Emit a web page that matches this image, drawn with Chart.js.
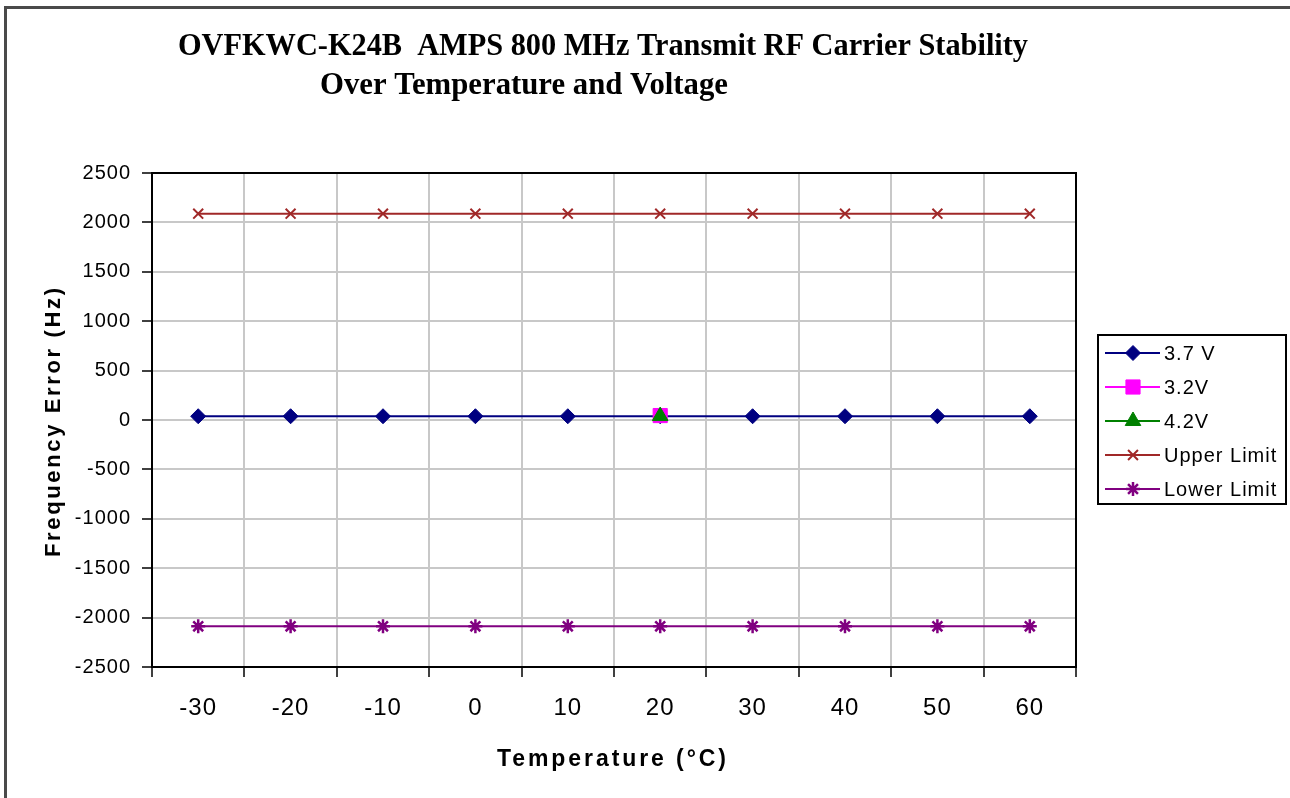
<!DOCTYPE html>
<html><head><meta charset="utf-8">
<script src="https://cdn.jsdelivr.net/npm/chart.js@4.4.1/dist/chart.umd.min.js"></script>
<style>html,body{margin:0;padding:0;background:#fff;overflow:hidden}#wrap{width:1290px;height:798px}</style>
</head><body><div id="wrap"><canvas id="c" width="1290" height="798"></canvas></div>
<script>
const titleLine1 = 'OVFKWC-K24B  AMPS 800 MHz Transmit RF Carrier Stability';
const titleLine2 = 'Over Temperature and Voltage';
const xAxisTitle = 'Temperature (°C)';
const yAxisTitle = 'Frequency Error (Hz)';
const temperatures = ['-30', '-20', '-10', '0', '10', '20', '30', '40', '50', '60'];
const v37 = [38, 38, 38, 38, 38, 38, 38, 38, 38, 38];
const v32 = [null, null, null, null, null, 45, null, null, null, null];
const v42 = [null, null, null, null, null, 40, null, null, null, null];
const upperLimit = [2088, 2088, 2088, 2088, 2088, 2088, 2088, 2088, 2088, 2088];
const lowerLimit = [-2088, -2088, -2088, -2088, -2088, -2088, -2088, -2088, -2088, -2088];
const yMin = -2500, yMax = 2500, yStep = 500;

const SANS = '"Liberation Sans", Arial, sans-serif';
const SERIF = '"Liberation Serif", "Times New Roman", serif';

function drawSpaced(ctx, text, x, y, width) {
  ctx.letterSpacing = '0px';
  const m = ctx.measureText(text).width;
  const s = Math.max(0, (width - m) / (text.length - 1));
  ctx.letterSpacing = s + 'px';
  ctx.fillText(text, x, y);
  ctx.letterSpacing = '0px';
}
function drawFit(ctx, text, x, y, width) {
  const m = ctx.measureText(text).width;
  ctx.save();
  ctx.translate(x, y);
  ctx.scale(width / m, 1);
  ctx.fillText(text, 0, 0);
  ctx.restore();
}

const decor = {
  id: 'decor',
  beforeDraw(chart) {
    const ctx = chart.ctx;
    ctx.save();
    ctx.fillStyle = '#fff';
    ctx.fillRect(0, 0, chart.width, chart.height);
    ctx.strokeStyle = '#4a4a4a';
    ctx.lineWidth = 3;
    ctx.strokeRect(5.5, 7.5, 1400, 1000);
    ctx.restore();
    ctx.letterSpacing = '1px';
  },
  beforeDatasetsDraw(chart) {
    const ctx = chart.ctx, a = chart.chartArea;
    ctx.save();
    ctx.strokeStyle = '#000';
    ctx.lineWidth = 2;
    ctx.beginPath();
    ctx.moveTo(a.left, a.top);
    ctx.lineTo(a.right, a.top);
    ctx.lineTo(a.right, a.bottom);
    ctx.stroke();
    ctx.restore();
  },
  afterDraw(chart) {
    const ctx = chart.ctx;
    ctx.letterSpacing = '0px';
    ctx.save();
    ctx.fillStyle = '#000';
    ctx.textAlign = 'left';
    ctx.textBaseline = 'alphabetic';
    ctx.font = 'bold 31px ' + SERIF;
    drawFit(ctx, titleLine1, 178, 55, 850);
    drawFit(ctx, titleLine2, 320, 94, 408);
    ctx.font = 'bold 23px ' + SANS;
    drawSpaced(ctx, xAxisTitle, 497, 766, 229);
    ctx.save();
    ctx.translate(60, 557);
    ctx.rotate(-Math.PI / 2);
    ctx.font = 'bold 22px ' + SANS;
    drawSpaced(ctx, yAxisTitle, 0, 0, 269);
    ctx.restore();

    // legend
    const bx = 1098, by = 335, bw = 188, bh = 169;
    ctx.strokeStyle = '#000';
    ctx.lineWidth = 2;
    ctx.strokeRect(bx, by, bw, bh);
    ctx.font = '20px ' + SANS;
    ctx.letterSpacing = '1px';
    ctx.textBaseline = 'middle';
    chart.data.datasets.forEach((ds, i) => {
      const cy = by + 18 + i * 34;
      ctx.strokeStyle = ds.borderColor;
      ctx.lineWidth = 2;
      ctx.beginPath();
      ctx.moveTo(1105, cy);
      ctx.lineTo(1160, cy);
      ctx.stroke();
      ctx.fillStyle = ds.pointBackgroundColor;
      ctx.strokeStyle = ds.pointBorderColor;
      ctx.lineWidth = ds.pointBorderWidth;
      Chart.helpers.drawPoint(ctx, {pointStyle: ds.pointStyle, rotation: 0, radius: ds.pointRadius, borderWidth: ds.pointBorderWidth}, 1133, cy);
      ctx.fillStyle = '#000';
      ctx.fillText(ds.label, 1164, cy + 1);
    });
    ctx.restore();
    ctx.letterSpacing = '0px';
  }
};

const datasets = [
  {label: '3.7 V', data: v37, borderColor: '#000080', pointBackgroundColor: '#000080', pointBorderColor: '#000080', pointStyle: 'rectRot', pointRadius: 7.5, pointBorderWidth: 1, order: 2},
  {label: '3.2V', data: v32, borderColor: '#FF00FF', pointBackgroundColor: '#FF00FF', pointBorderColor: '#FF00FF', pointStyle: 'rect', pointRadius: 10, pointBorderWidth: 1, order: 1},
  {label: '4.2V', data: v42, borderColor: '#008000', pointBackgroundColor: '#008000', pointBorderColor: '#008000', pointStyle: 'triangle', pointRadius: 9, pointBorderWidth: 1, order: 0},
  {label: 'Upper Limit', data: upperLimit, borderColor: '#A02828', pointBackgroundColor: '#A02828', pointBorderColor: '#A02828', pointStyle: 'crossRot', pointRadius: 7, pointBorderWidth: 2, order: 3},
  {label: 'Lower Limit', data: lowerLimit, borderColor: '#800080', pointBackgroundColor: '#800080', pointBorderColor: '#800080', pointStyle: 'star', pointRadius: 7, pointBorderWidth: 2.5, order: 4}
].map(d => Object.assign({borderWidth: 2, backgroundColor: d.borderColor, tension: 0, fill: false, spanGaps: false, pointHoverRadius: d.pointRadius}, d));

new Chart(document.getElementById('c'), {
  type: 'line',
  data: {labels: temperatures, datasets},
  plugins: [decor],
  options: {
    responsive: false,
    animation: false,
    devicePixelRatio: 1,
    layout: {padding: {left: 0, top: 173, right: 214, bottom: 0}},
    plugins: {legend: {display: false}, title: {display: false}, tooltip: {enabled: false}},
    scales: {
      x: {
        type: 'category',
        offset: true,
        afterFit: s => { s.height = 131; },
        grid: {offset: true, color: '#c8c8c8', lineWidth: 2, tickColor: '#000', tickLength: 10, tickWidth: 1.5, drawTicks: true},
        border: {color: '#000', width: 2},
        ticks: {color: '#000', font: {family: SANS, size: 24}, padding: 17, maxRotation: 0, autoSkip: false}
      },
      y: {
        type: 'linear',
        min: yMin, max: yMax,
        afterFit: s => { s.width = 152; },
        grid: {color: '#c8c8c8', lineWidth: 2, tickColor: '#000', tickLength: 10, tickWidth: 1.5},
        border: {color: '#000', width: 2},
        ticks: {stepSize: yStep, color: '#000', font: {family: SANS, size: 20}, padding: 11, callback: v => String(v)}
      }
    }
  }
});
</script></body></html>
